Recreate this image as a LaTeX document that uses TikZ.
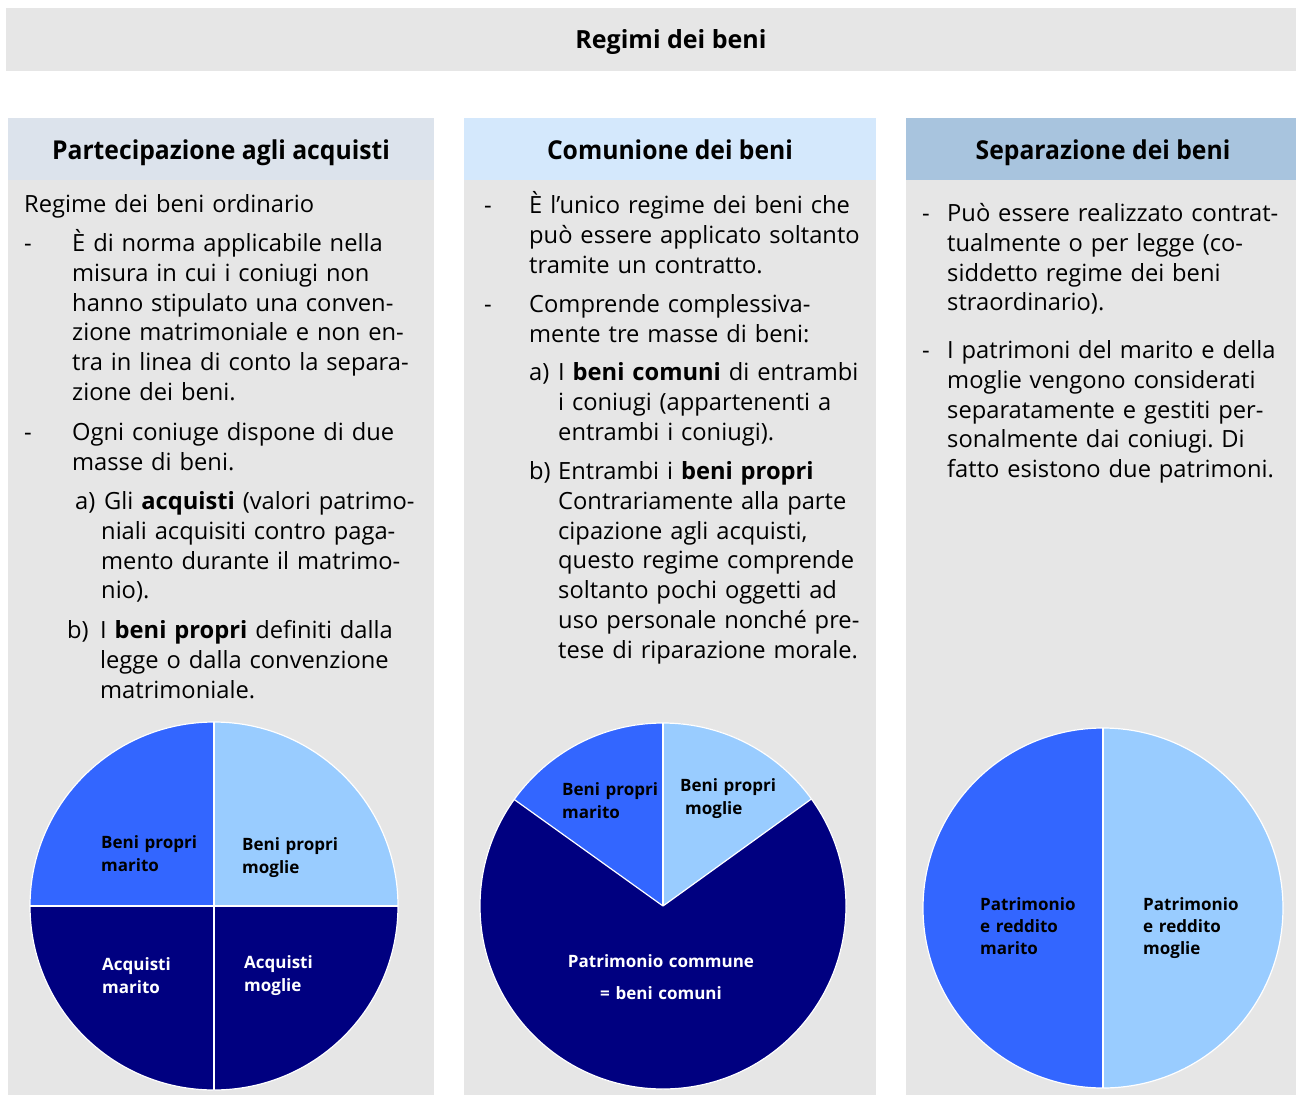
\documentclass[tikz,border=0pt]{standalone}
\usepackage{fontspec}
\setmainfont{Open Sans}
\newfontfamily\hdrfont[FakeStretch=0.95]{Open Sans}
\frenchspacing
\definecolor{bodygray}{RGB}{230,230,230}
\definecolor{hdrA}{RGB}{220,227,236}
\definecolor{hdrB}{RGB}{212,232,252}
\definecolor{hdrC}{RGB}{168,196,222}
\definecolor{pmid}{RGB}{51,102,255}
\definecolor{plight}{RGB}{153,204,255}
\definecolor{pnavy}{RGB}{0,0,128}
\tikzset{
  body/.style={anchor=base west, inner sep=0pt, text width=420pt, align=left,
    font=\frenchspacing\fontsize{23.7}{29.8}\selectfont, text=black},
  hdr/.style={anchor=base, inner sep=0pt, font=\hdrfont\fontsize{26}{30}\selectfont\bfseries, text=black},
  plabel/.style={anchor=base west, inner sep=0pt, text width=150pt, align=left,
    font=\fontsize{17}{23}\selectfont\bfseries},
  slice/.style={draw=white, line width=1.2pt}
}
\begin{document}
\begin{tikzpicture}[x=1pt,y=-1pt]
\useasboundingbox (0,0) rectangle (1296,1095);
\fill[white] (0,0) rectangle (1296,1095);
% title bar
\fill[bodygray] (6,8) rectangle (1296,71);
\node[hdr, font=\fontsize{25}{30}\selectfont\bfseries] (title) at (671,48) {Regimi dei beni};
% columns
\fill[bodygray] (8,180) rectangle (434,1095);
\fill[hdrA] (8,118) rectangle (434,180);
\fill[bodygray] (464,180) rectangle (876,1095);
\fill[hdrB] (464,118) rectangle (876,180);
\fill[bodygray] (906,180) rectangle (1296,1095);
\fill[hdrC] (906,118) rectangle (1296,180);
\node[hdr] (hA) at (221,159) {Partecipazione agli acquisti};
\node[hdr] (hB) at (670,159) {Comunione dei beni};
\node[hdr] (hC) at (1103,159) {Separazione dei beni};

% column 1 text
\node[body] (a0) at (24,212.5) {Regime dei beni ordinario};
\node[body] (a1d) at (24,251.5) {-};
\node[body] (a1) at (72,251.5) {È di norma applicabile nella\\
misura in cui i coniugi non\\
hanno stipulato una conven-\\
zione matrimoniale e non en-\\
tra in linea di conto la separa-\\
zione dei beni.};
\node[body] (a2d) at (24,440.5) {-};
\node[body] (a2) at (72,440.5) {Ogni coniuge dispone di due\\
masse di beni.};
\node[body] (a3l) at (75,509.5) {a)};
\node[body] (a3) at (101,509.5) {\hspace*{3pt}Gli \textbf{acquisti} (valori patrimo-\\
niali acquisiti contro paga-\\
mento durante il matrimo-\\
nio).};
\node[body] (a4l) at (67,638.5) {b)};
\node[body] (a4) at (100,638.5) {I \textbf{beni propri} definiti dalla\\
legge o dalla convenzione\\
matrimoniale.};

% column 2 text
\node[body] (b1d) at (484,213.5) {-};
\node[body] (b1) at (529,213.5) {È l’unico regime dei beni che\\
può essere applicato soltanto\\
tramite un contratto.};
\node[body] (b2d) at (484,312.5) {-};
\node[body] (b2) at (529,312.5) {Comprende complessiva-\\
mente tre masse di beni:};
\node[body] (b3l) at (529,380.5) {a)};
\node[body] (b3) at (558,380.5) {I \textbf{beni comuni} di entrambi\\
i coniugi (appartenenti a\\
entrambi i coniugi).};
\node[body] (b4l) at (529,479.5) {b)};
\node[body] (b4) at (558,479.5) {Entrambi i \textbf{beni propri}\\
Contrariamente alla parte\\
cipazione agli acquisti,\\
questo regime comprende\\
soltanto pochi oggetti ad\\
uso personale nonché pre-\\
tese di riparazione morale.};

% column 3 text
\node[body] (c1d) at (922,221.5) {-};
\node[body] (c1) at (947,221.5) {Può essere realizzato contrat-\\
tualmente o per legge (co-\\
siddetto regime dei beni\\
straordinario).};
\node[body] (c2d) at (922,358.5) {-};
\node[body] (c2) at (947,358.5) {I patrimoni del marito e della\\
moglie vengono considerati\\
separatamente e gestiti per-\\
sonalmente dai coniugi. Di\\
fatto esistono due patrimoni.};

% pie 1
\begin{scope}[shift={(214,906)}, yscale=-1]
\fill[pmid] (0,0) -- (90:184) arc[start angle=90,end angle=180,radius=184] -- cycle;
\fill[plight] (0,0) -- (0:184) arc[start angle=0,end angle=90,radius=184] -- cycle;
\fill[pnavy] (0,0) -- (180:184) arc[start angle=180,end angle=360,radius=184] -- cycle;
\draw[slice] (0,0) circle[radius=184];
\draw[slice] (0,184) -- (0,-184);
\draw[slice] (-184,0) -- (184,0);
\end{scope}
\node[plabel] (p1a) at (101,848) {Beni propri\\marito};
\node[plabel] (p1b) at (242,850) {Beni propri\\moglie};
\node[plabel, text=white] (p1c) at (102,970) {Acquisti\\marito};
\node[plabel, text=white] (p1d) at (244,968) {Acquisti\\moglie};

% pie 2
\begin{scope}[shift={(663,906)}, yscale=-1]
\fill[pnavy] (0,0) circle[radius=183];
\fill[pmid] (0,0) -- (90:183) arc[start angle=90,end angle=144.4,radius=183] -- cycle;
\fill[plight] (0,0) -- (35.8:183) arc[start angle=35.8,end angle=90,radius=183] -- cycle;
\draw[slice] (0,0) circle[radius=183];
\draw[slice] (0,0) -- (90:183);
\draw[slice] (0,0) -- (144.4:183);
\draw[slice] (0,0) -- (35.8:183);
\end{scope}
\node[plabel] (p2a) at (562,795) {Beni propri\\marito};
\node[plabel] (p2b) at (680,791) {Beni propri\\\hspace*{5pt}moglie};
\node[inner sep=0pt, anchor=base, text width=300pt, align=center,
  font=\fontsize{17}{32}\selectfont\bfseries, text=white] (p2c) at (661,967)
  {Patrimonio commune\\= beni comuni};

% pie 3
\begin{scope}[shift={(1103,908)}, yscale=-1]
\fill[pmid] (0,0) -- (90:180) arc[start angle=90,end angle=270,radius=180] -- cycle;
\fill[plight] (0,0) -- (-90:180) arc[start angle=-90,end angle=90,radius=180] -- cycle;
\draw[slice] (0,0) circle[radius=180];
\draw[slice] (0,180) -- (0,-180);
\end{scope}
\node[plabel, font=\fontsize{17}{22}\selectfont\bfseries] (p3a) at (980,910) {Patrimonio\\e reddito\\marito};
\node[plabel, font=\fontsize{17}{22}\selectfont\bfseries] (p3b) at (1143,910) {Patrimonio\\e reddito\\moglie};
\end{tikzpicture}
\end{document}
